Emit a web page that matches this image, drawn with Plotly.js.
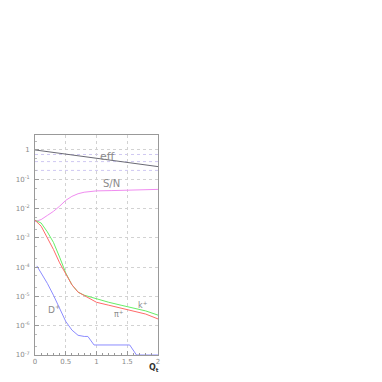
<!DOCTYPE html>
<html>
<head>
<meta charset="utf-8">
<script src="https://cdn.plot.ly/plotly-3.0.1.min.js"></script>
<style>
  html, body { margin: 0; padding: 0; background: #fff; }
  #plot { width: 382px; height: 382px; }
</style>
</head>
<body>
<div id="plot"></div>
<script>
// values (x = Qt, y on a log scale)
var eff_x = [0, 0.5, 1, 1.5, 2];
var eff_y = [1.0, 0.72, 0.52, 0.38, 0.27];

var sn_x = [0, 0.1, 0.2, 0.3, 0.4, 0.5, 0.6, 0.7, 0.8, 0.9, 1.0, 1.25, 1.5, 1.75, 2.0];
var sn_y = [0.0036, 0.0042, 0.0058, 0.008, 0.012, 0.019, 0.026, 0.032, 0.036, 0.039, 0.040, 0.041, 0.042, 0.043, 0.045];

var pi_x = [0, 0.1, 0.2, 0.3, 0.4, 0.5, 0.6, 0.7, 0.8, 0.9, 1.0, 1.2, 1.4, 1.6, 1.8, 2.0];
var pi_y = [4.0e-3, 2.5e-3, 1.0e-3, 4.0e-4, 1.4e-4, 5.6e-5, 2.5e-5, 1.4e-5, 1.05e-5, 7.9e-6, 6.3e-6, 5.0e-6, 4.0e-6, 3.2e-6, 2.5e-6, 1.7e-6];

var k_x = [0, 0.1, 0.2, 0.3, 0.4, 0.5, 0.6, 0.7, 0.8, 0.9, 1.0, 1.2, 1.4, 1.6, 1.8, 2.0];
var k_y = [4.0e-3, 3.2e-3, 1.6e-3, 7.0e-4, 2.2e-4, 6.3e-5, 2.5e-5, 1.4e-5, 1.1e-5, 9.5e-6, 8.3e-6, 6.3e-6, 5.0e-6, 4.0e-6, 3.2e-6, 2.3e-6];

var d_x = [0.03, 0.1, 0.2, 0.3, 0.4, 0.5, 0.6, 0.7, 0.8, 0.86, 0.96, 1.0, 1.54, 1.65, 2.0];
var d_y = [1.1e-4, 6.3e-5, 2.8e-5, 1.1e-5, 4.0e-6, 1.4e-6, 7.1e-7, 4.7e-7, 4.3e-7, 4.3e-7, 2.2e-7, 2.2e-7, 2.2e-7, 1.0e-7, 1.0e-7];

var y_ticks = [1, 1e-1, 1e-2, 1e-3, 1e-4, 1e-5, 1e-6, 1e-7];
var y_labels = ['1', '10<sup>-1</sup>', '10<sup>-2</sup>', '10<sup>-3</sup>', '10<sup>-4</sup>',
                '10<sup>-5</sup>', '10<sup>-6</sup>', '10<sup>-7</sup>'];
var x_ticks = [0, 0.5, 1, 1.5, 2];
var x_labels = ['0', '0.5', '1', '1.5', '2'];
var ref_levels = [0.7, 0.4, 0.2];

function line(x, y, color) {
    return {
        x: x,
        y: y,
        mode: 'lines',
        type: 'scatter',
        line: { color: color, width: 1 },
        hoverinfo: 'skip'
    };
}

var data = [
    line(eff_x, eff_y, '#6a6a74'),
    line(sn_x, sn_y, '#f08cf0'),
    line(k_x, k_y, '#66ee66'),
    line(pi_x, pi_y, '#ff6a6a'),
    line(d_x, d_y, '#8c8cff')
];

var grey = '#8a8a8a';
var labels = [
    { x: 1.18, y: -0.22, text: 'eff', size: 11 },
    { x: 1.25, y: -1.14, text: 'S/N', size: 10 },
    { x: 1.76, y: -5.31, text: 'k<sup>+</sup>', size: 8 },
    { x: 1.36, y: -5.61, text: '\u03c0<sup>+</sup>', size: 8 },
    { x: 0.31, y: -5.43, text: 'D<sup>+</sup>', size: 9 }
];

var annotations = labels.map(function (l) {
    return {
        x: l.x, y: l.y, xref: 'x', yref: 'y',
        text: l.text, showarrow: false,
        font: { family: 'DejaVu Sans', size: l.size, color: grey }
    };
});
annotations.push({
    x: 0.965, y: -0.06, xref: 'paper', yref: 'paper',
    text: '<b>Q<sub>t</sub></b>', showarrow: false,
    xanchor: 'center', yanchor: 'middle',
    font: { family: 'DejaVu Sans', size: 8, color: '#333' }
});

var shapes = ref_levels.map(function (v) {
    return {
        type: 'line', xref: 'paper', yref: 'y',
        x0: 0, x1: 1, y0: v, y1: v,
        line: { color: '#cfc8f2', width: 1, dash: 'dot' },
        layer: 'below'
    };
});

var layout = {
    width: 382,
    height: 382,
    margin: { l: 35, r: 224, t: 135, b: 27 },
    paper_bgcolor: '#fff',
    plot_bgcolor: '#fff',
    showlegend: false,
    font: { family: 'DejaVu Sans', size: 7, color: grey },
    xaxis: {
        range: [0, 2],
        tickvals: x_ticks,
        ticktext: x_labels,
        showgrid: true,
        gridcolor: '#d2d2d2',
        griddash: 'dot',
        zeroline: false,
        showline: true,
        linecolor: '#999',
        mirror: true,
        ticks: 'inside',
        ticklen: 4,
        tickcolor: '#999',
        minor: { dtick: 0.1, ticks: 'inside', ticklen: 2, tickcolor: '#999' },
        tickfont: { size: 7, color: grey }
    },
    yaxis: {
        type: 'log',
        range: [-7, 0.51],
        tickvals: y_ticks,
        ticktext: y_labels,
        showgrid: true,
        gridcolor: '#d2d2d2',
        griddash: 'dot',
        zeroline: false,
        showline: true,
        linecolor: '#999',
        mirror: true,
        ticks: 'inside',
        ticklen: 4,
        tickcolor: '#999',
        ticklabelstandoff: 3,
        minor: { ticks: 'inside', ticklen: 2, tickcolor: '#bbb', showgrid: false },
        tickfont: { size: 7, color: grey }
    },
    annotations: annotations,
    shapes: shapes
};

Plotly.newPlot('plot', data, layout, { displayModeBar: false, staticPlot: true });
</script>
</body>
</html>
